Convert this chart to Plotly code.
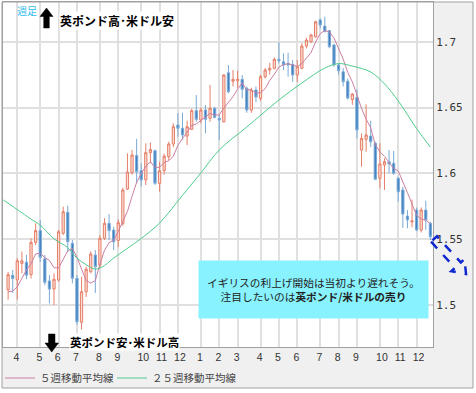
import math
import pandas as pd
import plotly.graph_objects as go

W, H = 476, 393
ML, MR, MT, MB = 3, 43, 2, 46
PW, PH = W - ML - MR, H - MT - MB

# ---------------- data (GBP/USD weekly) ----------------
weeks = pd.date_range("2013-03-18", periods=93, freq="7D")

open_ = [
    1.5115, 1.5225, 1.5190, 1.5315, 1.5325, 1.5230, 1.5475, 1.5565, 1.5350, 1.5182,
    1.5121, 1.5189, 1.5544, 1.5704, 1.5468, 1.5202, 1.4868, 1.5100, 1.5252, 1.5379,
    1.5303, 1.5506, 1.5620, 1.5569, 1.5490, 1.5620, 1.5880, 1.6005, 1.6135, 1.6020,
    1.5950, 1.6157, 1.6172, 1.5924, 1.6020, 1.6126, 1.6223, 1.6367, 1.6342, 1.6283,
    1.6334, 1.6476, 1.6405, 1.6481, 1.6418, 1.6494, 1.6418, 1.6392, 1.6764, 1.6700,
    1.6704, 1.6714, 1.6646, 1.6481, 1.6633, 1.6570, 1.6734, 1.6785, 1.6798, 1.6866,
    1.6848, 1.6836, 1.6828, 1.6747, 1.6798, 1.6967, 1.7000, 1.7038, 1.7165, 1.7119,
    1.7084, 1.6975, 1.6823, 1.6772, 1.6700, 1.6560, 1.6577, 1.6177, 1.6258, 1.6283,
    1.6228, 1.5962, 1.6063, 1.6088, 1.6076, 1.5962, 1.5873, 1.5675, 1.5630, 1.5721,
    1.5569, 1.5721, 1.5620]
high = [
    1.5250, 1.5265, 1.5355, 1.5405, 1.5380, 1.5505, 1.5620, 1.5645, 1.5380, 1.5227,
    1.5240, 1.5569, 1.5746, 1.5754, 1.5493, 1.5227, 1.5214, 1.5290, 1.5407, 1.5417,
    1.5531, 1.5658, 1.5690, 1.5594, 1.5650, 1.5890, 1.6152, 1.6177, 1.6262, 1.6076,
    1.6228, 1.6235, 1.6180, 1.6088, 1.6150, 1.6240, 1.6380, 1.6456, 1.6460, 1.6400,
    1.6490, 1.6595, 1.6500, 1.6519, 1.6671, 1.6505, 1.6443, 1.6755, 1.6823, 1.6785,
    1.6780, 1.6747, 1.6660, 1.6650, 1.6660, 1.6750, 1.6800, 1.6840, 1.6880, 1.6997,
    1.6912, 1.6916, 1.6861, 1.6861, 1.6990, 1.7030, 1.7060, 1.7160, 1.7178, 1.7190,
    1.7090, 1.6985, 1.6830, 1.6800, 1.6720, 1.6610, 1.6638, 1.6304, 1.6524, 1.6400,
    1.6240, 1.6228, 1.6114, 1.6177, 1.6170, 1.5974, 1.5898, 1.5721, 1.5800, 1.5740,
    1.5740, 1.5792, 1.5632]
low = [
    1.5040, 1.5090, 1.5040, 1.5240, 1.5195, 1.5200, 1.5455, 1.5328, 1.5150, 1.5012,
    1.5000, 1.5176, 1.5531, 1.5404, 1.5164, 1.4850, 1.4812, 1.5060, 1.5240, 1.5090,
    1.5278, 1.5493, 1.5493, 1.5417, 1.5440, 1.5600, 1.5873, 1.5990, 1.5924, 1.5900,
    1.5911, 1.6076, 1.5911, 1.5860, 1.5990, 1.6100, 1.6200, 1.6278, 1.6253, 1.6215,
    1.6330, 1.6392, 1.6380, 1.6304, 1.6392, 1.6418, 1.6253, 1.6385, 1.6608, 1.6660,
    1.6650, 1.6570, 1.6460, 1.6460, 1.6540, 1.6550, 1.6720, 1.6750, 1.6790, 1.6836,
    1.6785, 1.6734, 1.6696, 1.6696, 1.6790, 1.6950, 1.6990, 1.7030, 1.7100, 1.7070,
    1.6950, 1.6810, 1.6750, 1.6660, 1.6560, 1.6520, 1.6266, 1.6050, 1.6164, 1.6200,
    1.5950, 1.5886, 1.5873, 1.6000, 1.5990, 1.5784, 1.5585, 1.5582, 1.5590, 1.5560,
    1.5550, 1.5569, 1.5493]
close = [
    1.5230, 1.5200, 1.5335, 1.5335, 1.5225, 1.5475, 1.5565, 1.5360, 1.5172, 1.5120,
    1.5195, 1.5556, 1.5708, 1.5480, 1.5202, 1.4872, 1.5100, 1.5271, 1.5387, 1.5290,
    1.5506, 1.5620, 1.5564, 1.5480, 1.5625, 1.5873, 1.6010, 1.6139, 1.6012, 1.5949,
    1.6157, 1.6180, 1.5924, 1.6020, 1.6130, 1.6223, 1.6354, 1.6342, 1.6291, 1.6354,
    1.6476, 1.6410, 1.6481, 1.6410, 1.6494, 1.6425, 1.6405, 1.6747, 1.6620, 1.6714,
    1.6714, 1.6638, 1.6481, 1.6633, 1.6580, 1.6734, 1.6785, 1.6798, 1.6866, 1.6856,
    1.6823, 1.6823, 1.6747, 1.6810, 1.6967, 1.7013, 1.7051, 1.7152, 1.7127, 1.7080,
    1.6962, 1.6823, 1.6780, 1.6696, 1.6572, 1.6603, 1.6329, 1.6266, 1.6291, 1.6240,
    1.5954, 1.6071, 1.6088, 1.6071, 1.6000, 1.5860, 1.5690, 1.5645, 1.5638, 1.5569,
    1.5721, 1.5645, 1.5518]

# 5-week MA: first four values (window starts before the visible data)
ma5_first = [1.5100, 1.5105, 1.5138, 1.5204]

# 25-week MA
ma25_dates = ["2013-03-11", "2013-04-08", "2013-04-22", "2013-05-06", "2013-05-27",
              "2013-06-17", "2013-07-01", "2013-07-15", "2013-07-29", "2013-08-12",
              "2013-08-26", "2013-10-07", "2013-11-04", "2013-12-09", "2014-01-06",
              "2014-02-03", "2014-03-17", "2014-05-05", "2014-06-09", "2014-07-14",
              "2014-08-04", "2014-08-25", "2014-09-22", "2014-10-13", "2014-11-03",
              "2014-12-01", "2014-12-22"]
ma25_vals = [1.5797, 1.5700, 1.5652, 1.5606, 1.5502,
             1.5435, 1.5356, 1.5306, 1.5272, 1.5300,
             1.5356, 1.5505, 1.5622, 1.5833, 1.6003,
             1.6177, 1.6352, 1.6557, 1.6686, 1.6800,
             1.6834, 1.6815, 1.6770, 1.6680, 1.6550,
             1.6340, 1.6200]

month_ticks = ["2013-04-01", "2013-05-06", "2013-06-03", "2013-07-01", "2013-08-05",
               "2013-09-02", "2013-10-07", "2013-11-04", "2013-12-02", "2014-01-06",
               "2014-02-03", "2014-03-03", "2014-04-07", "2014-05-05", "2014-06-02",
               "2014-07-07", "2014-08-04", "2014-09-01", "2014-10-06", "2014-11-03",
               "2014-12-01"]
month_labels = ["4", "5", "6", "7", "8", "9", "10", "11", "12", "1", "2", "3",
                "4", "5", "6", "7", "8", "9", "10", "11", "12"]

y_ticks = [1.5, 1.55, 1.6, 1.65, 1.7]
y_labels = ["1.5", "1.55", "1.6", "1.65", "1.7"]

# ---------------- helpers for decorations (pixel -> paper) ----------------
def px(x, y):
    return (x - ML) / PW, (H - MB - y) / PH


def path(points):
    s = ""
    for k, (x, y) in enumerate(points):
        a, b = px(x, y)
        s += ("M" if k == 0 else "L") + f"{a:.5f},{b:.5f} "
    return s + "Z"


def rect(x0, y0, x1, y1, **kw):
    a0, b0 = px(x0, y0)
    a1, b1 = px(x1, y1)
    d = dict(type="rect", xref="paper", yref="paper", x0=a0, y0=b1, x1=a1, y1=b0)
    d.update(kw)
    return d


ma5 = pd.Series(close).rolling(5).mean().tolist()
ma5[:4] = ma5_first

fig = go.Figure()
fig.add_trace(go.Candlestick(
    x=weeks, open=open_, high=high, low=low, close=close,
    increasing=dict(line=dict(color="#e57f68", width=1), fillcolor="#fbdcd3"),
    decreasing=dict(line=dict(color="#7aaad6", width=1), fillcolor="#3f7fbf"),
    showlegend=False, hoverinfo="skip"))
fig.add_trace(go.Scatter(
    x=weeks, y=ma5, mode="lines", name="５週移動平均線", legend="legend",
    line=dict(color="#cc7fa3", width=1)))
fig.add_trace(go.Scatter(
    x=pd.to_datetime(ma25_dates), y=ma25_vals, mode="lines", name="２５週移動平均線",
    legend="legend2",
    line=dict(color="#4dcc8c", width=1, shape="spline", smoothing=1.0)))

shapes = []
# grey bands outside the plot area
shapes.append(rect(2, MT + PH, 473, 388, fillcolor="#f0f0f0", line_width=0, layer="below"))
shapes.append(rect(ML + PW, 2, 473, MT + PH, fillcolor="#f0f0f0", line_width=0, layer="below"))
shapes.append(rect(2, 2, 473, 388, line=dict(color="#a0a0a0", width=1)))

# black arrows
up_arrow = [(46.5, 8), (53, 16.5), (49.3, 16.5), (49.3, 28), (43.7, 28), (43.7, 16.5), (40, 16.5)]
down_arrow = [(48.5, 334), (55, 334), (55, 343), (58.5, 343), (51.7, 352), (45, 343), (48.5, 343)]
for arr in (up_arrow, down_arrow):
    shapes.append(dict(type="path", xref="paper", yref="paper", path=path(arr),
                       fillcolor="black", line=dict(color="black", width=0.5)))

# blue dashed hollow arrow pointing down-right
tx, ty, hx, hy = 434.0, 239.0, 466.0, 274.0
L = math.hypot(hx - tx, hy - ty)
dx, dy = (hx - tx) / L, (hy - ty) / L
nx, ny = -dy, dx
bx, by = hx - 12 * dx, hy - 12 * dy
sw, hw = 4.0, 9.0
blue_arrow = [(tx + sw * nx, ty + sw * ny), (bx + sw * nx, by + sw * ny), (bx + hw * nx, by + hw * ny),
              (hx, hy), (bx - hw * nx, by - hw * ny), (bx - sw * nx, by - sw * ny),
              (tx - sw * nx, ty - sw * ny)]
shapes.append(dict(type="path", xref="paper", yref="paper", path=path(blue_arrow),
                   fillcolor="rgba(0,0,0,0)", line=dict(color="#1028d0", width=2.5, dash="dash")))

annotations = []
a, b = px(15, 11)
annotations.append(dict(xref="paper", yref="paper", x=a, y=b, xanchor="left", yanchor="middle",
                        text="週足", showarrow=False,
                        font=dict(family="Noto Sans CJK JP", size=10, color="#33bbee")))
a, b = px(117, 20.5)
annotations.append(dict(xref="paper", yref="paper", x=a, y=b, xanchor="center", yanchor="middle",
                        text="<b>英ポンド高･米ドル安</b>", showarrow=False, bgcolor="white",
                        borderpad=0,
                        font=dict(family="Noto Sans CJK JP", size=12, color="black")))
a, b = px(125, 341.5)
annotations.append(dict(xref="paper", yref="paper", x=a, y=b, xanchor="center", yanchor="middle",
                        text="<b>英ポンド安･米ドル高</b>", showarrow=False, bgcolor="white",
                        borderpad=0,
                        font=dict(family="Noto Sans CJK JP", size=11.5, color="black")))
a, b = px(313.5, 289.5)
annotations.append(dict(xref="paper", yref="paper", x=a, y=b, xanchor="center", yanchor="middle",
                        text="イギリスの利上げ開始は当初より遅れそう。<br>注目したいのは<b>英ポンド/米ドルの売り</b>",
                        showarrow=False, bgcolor="#88f2ff", width=225, height=53, borderpad=2,
                        align="center",
                        font=dict(family="Noto Sans CJK JP", size=10.7, color="#222222")))

legend_font = dict(family="Noto Sans CJK JP", size=10.5, color="#444444")
fig.update_layout(
    width=W, height=H,
    margin=dict(l=ML, r=MR, t=MT, b=MB, pad=0, autoexpand=False),
    paper_bgcolor="white", plot_bgcolor="white",
    shapes=shapes, annotations=annotations,
    showlegend=True,
    legend=dict(orientation="h", xref="container", yref="container", x=0.0, y=1 - 378 / H,
                xanchor="left", yanchor="middle", bgcolor="rgba(0,0,0,0)", font=legend_font),
    legend2=dict(orientation="h", xref="container", yref="container", x=112 / W, y=1 - 378 / H,
                 xanchor="left", yanchor="middle", bgcolor="rgba(0,0,0,0)", font=legend_font),
    xaxis=dict(range=["2013-03-10 05:00", "2014-12-26"], rangeslider=dict(visible=False),
               tickvals=month_ticks,
               ticktext=[t + "\u2007" if len(t) == 1 else t for t in month_labels],
               ticklabelshift=2, ticklabelstandoff=0,
               showgrid=True, gridcolor="#e0e0e0", gridwidth=2,
               showline=True, linecolor="#a0a0a0", linewidth=1, mirror=True,
               ticks="", zeroline=False,
               tickfont=dict(family="Liberation Sans", size=10.5, color="#333333")),
    yaxis=dict(side="right", range=[1.468, 1.7302], tickvals=y_ticks, ticktext=y_labels,
               showgrid=True, gridcolor="#e0e0e0", gridwidth=2,
               showline=True, linecolor="#a0a0a0", linewidth=1, mirror=True,
               ticks="", zeroline=False,
               tickfont=dict(family="DejaVu Sans Mono", size=11, color="#333333")),
)

fig.write_html("out.html", post_script="document.body.style.margin='0px';",
               config={"displayModeBar": False})
